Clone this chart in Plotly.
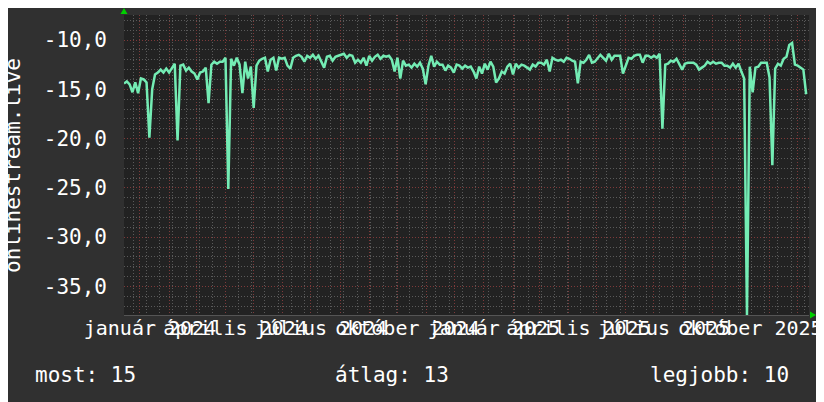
import plotly.graph_objects as go
import pandas as pd

# ---- data ----
series_start = "2023-12-15"
step = "3D"
values = [
    -14.4, -14.2, -14.5, -15.3, -14.3, -15.4, -13.9, -14.0, -14.3, -19.9,
    -15.0, -13.5, -13.3, -13.0, -13.3, -12.9, -13.3, -12.8, -12.4, -20.2,
    -12.6, -12.5, -13.1, -12.8, -13.2, -13.4, -14.0, -13.3, -13.2, -12.8,
    -16.4, -12.5, -12.2, -12.4, -12.2, -12.2, -11.8, -25.1, -11.9, -12.6,
    -11.8, -12.5, -15.4, -12.2, -13.9, -12.7, -16.9, -12.6, -12.1, -11.9,
    -11.8, -13.2, -12.0, -11.8, -13.1, -11.8, -11.9, -11.8, -12.6, -12.9,
    -11.8, -11.6, -11.5, -11.7, -12.2, -11.6, -11.8, -11.5, -11.9, -11.6,
    -12.3, -12.8, -11.7, -11.6, -12.1, -11.7, -11.6, -11.5, -11.4, -11.8,
    -11.5, -11.6, -12.3, -12.0, -12.3, -11.8, -12.6, -11.6, -12.1, -11.7,
    -11.5, -11.9, -11.6, -11.7, -11.6, -12.0, -13.2, -11.8, -13.9, -12.1,
    -12.6, -12.5, -12.8, -12.4, -12.7, -12.3, -12.9, -14.5, -12.6, -11.6,
    -12.7, -12.2, -12.5, -12.5, -13.1, -12.6, -12.8, -13.3, -12.5, -12.6,
    -12.9, -12.6, -12.8, -12.7, -13.2, -13.9, -12.7, -13.4, -12.4, -13.0,
    -12.2, -12.7, -14.3, -13.9, -13.2, -13.4, -12.7, -12.4, -13.5, -12.4,
    -12.8, -12.5, -12.6, -12.8, -13.0, -12.5, -12.7, -12.3, -12.3, -12.5,
    -12.0, -13.2, -11.8, -12.0, -12.1, -12.0, -12.2, -11.8, -11.9, -12.1,
    -12.2, -14.4, -12.2, -12.3, -12.0, -11.5, -12.3, -12.2, -11.8, -11.5,
    -11.8, -12.1, -11.4, -12.0, -11.6, -11.6, -11.6, -13.4, -12.5, -11.8,
    -11.9, -11.6, -11.5, -11.5, -12.3, -11.6, -11.6, -11.8, -11.6, -11.8,
    -11.4, -19.0, -12.5, -12.4, -12.1, -12.2, -11.9, -12.4, -13.0, -12.4,
    -12.3, -12.3, -12.3, -12.5, -13.0, -12.8, -12.6, -12.2, -12.4, -12.2,
    -12.4, -12.3, -12.3, -12.6, -12.6, -12.8, -12.4, -12.8, -12.4, -13.2,
    -13.9, -37.9, -12.7, -15.3, -12.8, -12.7, -12.3, -12.3, -12.3, -13.8,
    -22.7, -12.9, -12.4, -12.6, -11.9, -11.7, -10.5, -10.3, -12.5, -12.6,
    -12.8, -13.0, -15.5,
]
x_range = ["2023-12-15", "2025-12-13"]
y_range = [-37.9, -7.46]

month_ticks = pd.date_range("2024-01-01", "2025-12-01", freq="MS")
label_months = {1: "január", 4: "április", 7: "július", 10: "október"}
month_text = [f"{label_months[d.month]} {d.year}" if d.month in label_months else "" for d in month_ticks]

y_ticks = [-35, -30, -25, -20, -15, -10]
y_text = ["-35,0", "-30,0", "-25,0", "-20,0", "-15,0", "-10,0"]

y_title = "onlinestream.live"
legend_items = ["most: 15", "átlag: 13", "legjobb: 10"]

dates = pd.date_range(series_start, periods=len(values), freq=step)

# ---- figure ----
# the page body has an 8px margin; the figure starts at (8, 8) and runs to the window edge
OFF = 8
W, H = 824 - OFF, 402 - OFF
PL, PR, PT, PB = 124, 809, 15, 315          # plot box in window pixels
L, T = PL - OFF, PT - OFF
R = W - (PR - OFF)
B = H - (PB - OFF)
PW, PH = PR - PL, PB - PT

def px(xp):
    return (xp - PL) / PW

def py(yp):
    return (PB - yp) / PH

FONT = "DejaVu Sans Mono"
BG = "#303030"
PLOT_BG = "#222222"
MINOR = "#5a5a5a"
MAJOR = "#7e3a3a"
LINE = "#74ecb4"
DASH = "1px,2px"

fig = go.Figure()
fig.add_trace(go.Scatter(x=dates, y=values, mode="lines",
                         line=dict(color=LINE, width=2.5), hoverinfo="skip"))

fig.update_layout(
    width=W, height=H, autosize=False,
    margin=dict(l=L, r=R, t=T, b=B, pad=0, autoexpand=False),
    paper_bgcolor=BG, plot_bgcolor=PLOT_BG,
    showlegend=False,
    font=dict(family=FONT, size=21, color="#ffffff"),
)

fig.update_xaxes(
    type="date", range=x_range, automargin=False,
    tickmode="array", tickvals=month_ticks, ticktext=month_text,
    tickangle=0, ticklabelshift=10, ticklabeloverflow="allow",
    ticks="", ticklabelstandoff=-5,
    showgrid=True, gridcolor=MAJOR, griddash=DASH, gridwidth=1,
    tickfont=dict(family=FONT, size=20, color="#ffffff"),
    minor=dict(tickmode="linear", tick0="2024-01-08", dtick=14 * 86400000,
               showgrid=True, gridcolor=MINOR, griddash=DASH, gridwidth=1),
    showline=True, linecolor="#555555", linewidth=1,
    zeroline=False, fixedrange=True,
)

fig.update_yaxes(
    range=y_range, automargin=False,
    tickmode="array", tickvals=y_ticks, ticktext=y_text,
    showgrid=True, gridcolor=MAJOR, griddash=DASH, gridwidth=1,
    ticks="", ticklabelstandoff=16,
    tickfont=dict(family=FONT, size=21, color="#ffffff"),
    minor=dict(tickmode="linear", tick0=-10, dtick=1,
               showgrid=True, gridcolor=MINOR, griddash=DASH, gridwidth=1),
    zeroline=False, fixedrange=True,
)

annotations = [
    dict(text=y_title, textangle=-90, xref="paper", yref="paper",
         x=px(13), y=py(165), xanchor="center", yanchor="middle",
         showarrow=False, font=dict(family=FONT, size=21, color="#ffffff")),
]
for txt, xl in zip(legend_items, [33, 333, 648]):
    annotations.append(dict(text=txt, xref="paper", yref="paper",
                            x=px(xl), y=py(375), xanchor="left", yanchor="middle",
                            showarrow=False,
                            font=dict(family=FONT, size=21, color="#ffffff")))
fig.update_layout(annotations=annotations)

green = "#00d000"
fig.update_layout(shapes=[
    dict(type="path", xref="paper", yref="paper", xsizemode="pixel", ysizemode="pixel",
         xanchor=0, yanchor=1, path="M -3.5,1 L 3.5,1 L 0,7 Z",
         fillcolor=green, line=dict(width=0)),
    dict(type="path", xref="paper", yref="paper", xsizemode="pixel", ysizemode="pixel",
         xanchor=1, yanchor=0, path="M 1,3.5 L 1,-3.5 L 7,0 Z",
         fillcolor=green, line=dict(width=0)),
])

fig.write_html("out.html", config={"responsive": False})
